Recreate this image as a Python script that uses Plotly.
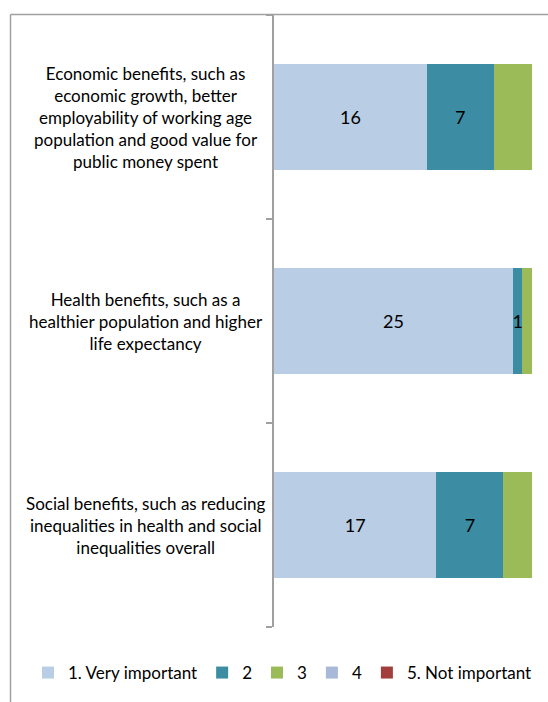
import plotly.graph_objects as go

# Survey responses: how important each type of benefit is
categories = [
    "Economic benefits, such as<br>economic growth, better<br>employability of working age<br>population and good value for<br>public money spent",
    "Health benefits, such as a<br>healthier population and higher<br>life expectancy",
    "Social benefits, such as reducing<br>inequalities in health and social<br>inequalities overall",
]
series_names = ["1. Very important", "2", "3", "4", "5. Not important"]
very_important = [16, 25, 17]
level_2 = [7, 1, 7]
level_3 = [4, 1, 3]
level_4 = [0, 0, 0]
not_important = [0, 0, 0]

series_values = [very_important, level_2, level_3, level_4, not_important]
colors = ["#B9CDE5", "#3C8DA3", "#9BBB59", "#A8B8D8", "#A23E3C"]
show_labels = [True, True, False, False, False]

W, H = 548, 702
L, R, T, B = 274, 16, 15, 75
plot_w = W - L - R
plot_h = H - T - B


def px_x(x):
    return (x - L) / plot_w


def px_y(y):
    return (H - B - y) / plot_h


FONT = "Lato, 'Open Sans', sans-serif"

fig = go.Figure()
for name, vals, col, lab in zip(series_names, series_values, colors, show_labels):
    fig.add_trace(go.Bar(
        name=name,
        y=list(range(len(categories))),
        x=vals,
        orientation="h",
        marker=dict(color=col, line=dict(width=0)),
        text=[str(v) for v in vals] if lab else None,
        textposition="inside" if lab else "none",
        insidetextanchor="middle",
        textangle=0,
        constraintext="none",
        textfont=dict(family=FONT, size=18, color="#000000"),
        hoverinfo="x+name",
    ))

annotations = []
for i, cat in enumerate(categories):
    annotations.append(dict(
        text=cat, x=px_x(146), xref="paper", y=i, yref="y",
        xanchor="center", yanchor="middle", align="center",
        showarrow=False, font=dict(family=FONT, size=17, color="#000000"),
    ))

frame_color = "#A0A0A0"
shapes = [
    dict(type="line", xref="paper", yref="paper",
         x0=px_x(10.5), x1=px_x(W), y0=px_y(14.5), y1=px_y(14.5),
         line=dict(color=frame_color, width=1.5)),
    dict(type="line", xref="paper", yref="paper",
         x0=px_x(10.5), x1=px_x(10.5), y0=px_y(14.5), y1=px_y(H),
         line=dict(color=frame_color, width=1.5)),
]

fig.update_layout(
    width=W, height=H,
    margin=dict(l=L, r=R, t=T, b=B, pad=0, autoexpand=False),
    barmode="stack",
    bargap=0.48,
    paper_bgcolor="white",
    plot_bgcolor="white",
    showlegend=True,
    legend=dict(
        orientation="h",
        x=px_x(28), xanchor="left",
        y=px_y(673), yanchor="middle",
        font=dict(family=FONT, size=17, color="#000000"),
        itemwidth=30, traceorder="normal",
        bgcolor="rgba(0,0,0,0)",
    ),
    xaxis=dict(range=[0, 27], visible=False, fixedrange=True),
    yaxis=dict(
        range=[2.5, -0.5], tickmode="array",
        tickvals=[-0.5, 0.5, 1.5, 2.5], ticktext=["", "", "", ""],
        showline=True, linecolor=frame_color, linewidth=1.5,
        ticks="outside", ticklen=6, tickcolor=frame_color, tickwidth=1.5,
        showgrid=False, zeroline=False, fixedrange=True,
    ),
    annotations=annotations,
    shapes=shapes,
)

fig.write_html("out.html")
